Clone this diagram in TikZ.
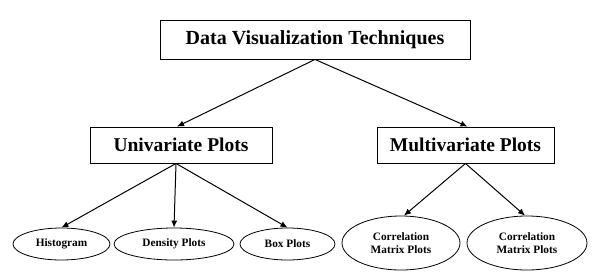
\documentclass[tikz,border=0pt]{standalone}
\usepackage{fontspec}
\setmainfont{Liberation Serif}
\usetikzlibrary{shapes.geometric, arrows.meta, positioning}

\begin{document}
\begin{tikzpicture}[
  x=1pt, y=-1pt,
  topbox/.style={draw, line width=0.9pt, minimum width=310pt, minimum height=39pt, align=center, font=\bfseries\fontsize{20}{23}\selectfont},
  midbox/.style={draw, line width=0.9pt, minimum height=36pt, align=center, font=\bfseries\fontsize{19.5}{22}\selectfont},
  leaf/.style={draw, ellipse, line width=0.8pt, minimum height=32pt, inner sep=0pt, align=center, font=\bfseries\fontsize{11.3}{13}\selectfont},
  arr/.style={-{Latex[length=7pt, width=6pt]}, line width=1pt}
]

\useasboundingbox[fill=white] (0,0) rectangle (600,277);

\node[topbox] (dvt) at (315,39.5) {Data Visualization Techniques};
\node[midbox, minimum width=182pt] (uni) at (181,145) {Univariate Plots};
\node[midbox, minimum width=177pt] (multi) at (465.5,145) {Multivariate Plots};

\node[leaf, minimum width=97pt] (hist) at (61.5,244) {Histogram};
\node[leaf, minimum width=120pt] (dens) at (174,244) {Density Plots};
\node[leaf, minimum width=95pt] (boxp) at (287.5,244) {Box Plots};
\node[leaf, minimum width=118pt, minimum height=54pt] (corr1) at (401,243) {Correlation\\Matrix Plots};
\node[leaf, minimum width=120pt, minimum height=54pt] (corr2) at (527,243) {Correlation\\Matrix Plots};

\draw[arr] (dvt.south) -- ([xshift=-4pt]uni.north);
\draw[arr] (dvt.south) -- ([xshift=2pt]multi.north);
\draw[arr] ([xshift=-5pt]uni.south) -- (hist.north);
\draw[arr] ([xshift=-5pt]uni.south) -- (dens.north);
\draw[arr] ([xshift=-5pt]uni.south) -- (boxp.north);
\draw[arr] (multi.south) -- ([xshift=3pt]corr1.north);
\draw[arr] (multi.south) -- ([xshift=-2pt]corr2.north);

\end{tikzpicture}
\end{document}
